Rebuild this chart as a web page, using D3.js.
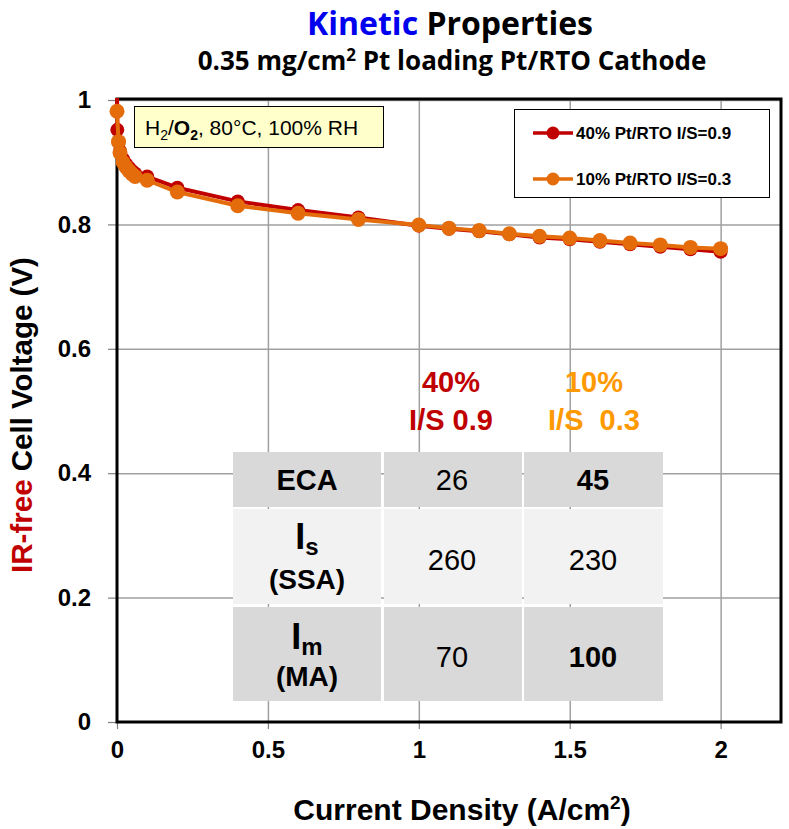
<!DOCTYPE html>
<html><head><meta charset="utf-8">
<script src="https://cdn.jsdelivr.net/npm/d3@7"></script>
<style>
body{margin:0;background:#fff}
svg{display:block}
text{font-family:"Liberation Sans",Arial,sans-serif}
</style>
</head><body>
<svg id="c" width="789" height="829"></svg>
<script>
// ---------- data ----------
const xTicks = [0, 0.5, 1, 1.5, 2];
const xTickLabels = ["0", "0.5", "1", "1.5", "2"];
const yTicks = [0, 0.2, 0.4, 0.6, 0.8, 1];
const yTickLabels = ["0", "0.2", "0.4", "0.6", "0.8", "1"];
const seriesNames = ["40% Pt/RTO I/S=0.9", "10% Pt/RTO I/S=0.3"];
const seriesColors = ["#c00000", "#e46c0a"];
const current40 = [0, 0.001, 0.005, 0.01, 0.02, 0.03, 0.04, 0.05, 0.06, 0.1, 0.2, 0.4, 0.6, 0.8, 1.0, 1.1, 1.2, 1.3, 1.4, 1.5, 1.6, 1.7, 1.8, 1.9, 2.0];
const voltage40 = [1.02, 0.952, 0.932, 0.918, 0.905, 0.897, 0.891, 0.886, 0.882, 0.877, 0.859, 0.837, 0.823, 0.811, 0.798, 0.793, 0.789, 0.784, 0.779, 0.776, 0.772, 0.768, 0.764, 0.760, 0.756];
const current10 = [0, 0.005, 0.01, 0.02, 0.03, 0.04, 0.05, 0.06, 0.1, 0.2, 0.4, 0.6, 0.8, 1.0, 1.1, 1.2, 1.3, 1.4, 1.5, 1.6, 1.7, 1.8, 1.9, 2.0];
const voltage10 = [0.982, 0.933, 0.915, 0.900, 0.892, 0.886, 0.881, 0.877, 0.871, 0.852, 0.830, 0.818, 0.808, 0.799, 0.794, 0.790, 0.785, 0.781, 0.778, 0.774, 0.770, 0.767, 0.763, 0.761];
const tableLabelMain = ["ECA", "I", "I"];
const tableLabelSub = ["", "s", "m"];
const tableLabelLine2 = ["", "(SSA)", "(MA)"];
const table40 = ["26", "260", "70"];
const table10 = ["45", "230", "100"];
const table10Bold = [true, false, true];
const headerTop = ["40%", "10%"];
const headerBottom = ["I/S 0.9", "I/S  0.3"];
const headerColors = ["#c00000", "#ff9900"];

// ---------- layout ----------
const svg = d3.select("#c");
const L = 117, R = 781, T = 100, B = 722;
const x = d3.scaleLinear().domain([0, 2.2]).range([L, R]);
const y = d3.scaleLinear().domain([0, 1]).range([B, T]);

// title
const t1 = svg.append("text").attr("x", 450).attr("y", 35).attr("text-anchor", "middle")
  .style("font-family", "'Open Sans',sans-serif").style("font-weight", "bold").style("font-size", "32px");
t1.append("tspan").attr("fill", "#0000ee").text("Kinetic");
t1.append("tspan").attr("fill", "#000").text(" Properties");
const t2 = svg.append("text").attr("x", 452).attr("y", 70).attr("text-anchor", "middle")
  .style("font-family", "'Open Sans',sans-serif").style("font-weight", "bold").style("font-size", "26px");
t2.append("tspan").text("0.35 mg/cm");
t2.append("tspan").attr("dy", -9).style("font-size", "17px").text("2");
t2.append("tspan").attr("dy", 9).text(" Pt loading Pt/RTO Cathode");

// gridlines
const grid = svg.append("g");
grid.append("g").attr("transform", `translate(0,${B})`)
  .call(d3.axisBottom(x).tickValues(xTicks.slice(1)).tickSize(-(B - T)).tickFormat(""))
  .call(g => g.select(".domain").remove())
  .call(g => g.selectAll("line").attr("stroke", "#a0a0a0").attr("stroke-width", 1.5));
grid.append("g").attr("transform", `translate(${L},0)`)
  .call(d3.axisLeft(y).tickValues(yTicks.slice(1)).tickSize(-(R - L)).tickFormat(""))
  .call(g => g.select(".domain").remove())
  .call(g => g.selectAll("line").attr("stroke", "#a0a0a0").attr("stroke-width", 1.5));

// outer tick marks + labels
const xa = svg.append("g").attr("transform", `translate(0,${B})`)
  .call(d3.axisBottom(x).tickValues(xTicks).tickSize(7).tickPadding(12)
    .tickFormat((d, i) => xTickLabels[i]));
xa.select(".domain").remove();
xa.selectAll("line").attr("stroke", "#808080").attr("stroke-width", 1.2);
xa.selectAll("text").attr("fill", "#000").style("font-size", "24px").style("font-weight", "bold")
  .style("font-family", "'Liberation Sans',Arial,sans-serif");

const ya = svg.append("g").attr("transform", `translate(${L},0)`)
  .call(d3.axisLeft(y).tickValues(yTicks).tickSize(9).tickPadding(17)
    .tickFormat((d, i) => yTickLabels[i]));
ya.select(".domain").remove();
ya.selectAll("line").attr("stroke", "#808080").attr("stroke-width", 1.2);
ya.selectAll("text").attr("fill", "#000").style("font-size", "24px").style("font-weight", "bold")
  .style("font-family", "'Liberation Sans',Arial,sans-serif");

// axis titles
const xt = svg.append("text").attr("x", 462).attr("y", 820).attr("text-anchor", "middle")
  .style("font-size", "30px").style("font-weight", "bold");
xt.append("tspan").text("Current Density (A/cm");
xt.append("tspan").attr("dy", -11).style("font-size", "19px").text("2");
xt.append("tspan").attr("dy", 11).text(")");

const yt = svg.append("text").attr("transform", "translate(32,415) rotate(-90)").attr("text-anchor", "middle")
  .style("font-size", "29.5px").style("font-weight", "bold");
yt.append("tspan").attr("fill", "#c00000").text("IR-free");
yt.append("tspan").attr("fill", "#000").text(" Cell Voltage (V)");

// table
const colX = [[233, 381], [384, 522], [524, 663]];
const rowY = [[452, 507], [509, 604], [607, 701]];
const rowFill = ["#d9d9d9", "#f2f2f2", "#d9d9d9"];
const tbl = svg.append("g");
tableLabelMain.forEach((lab, r) => {
  colX.forEach((c, ci) => {
    tbl.append("rect").attr("x", c[0]).attr("y", rowY[r][0])
      .attr("width", c[1] - c[0]).attr("height", rowY[r][1] - rowY[r][0]).attr("fill", rowFill[r]);
  });
});
// row 1
tbl.append("text").attr("x", 307).attr("y", 490).attr("text-anchor", "middle")
  .style("font-size", "29px").style("font-weight", "bold").text(tableLabelMain[0]);
// rows 2,3 labels
[1, 2].forEach(r => {
  const mainY = r === 1 ? 549 : 649;
  const l2Y = r === 1 ? 589 : 686;
  const t = tbl.append("text").attr("x", 307).attr("y", mainY).attr("text-anchor", "middle")
    .style("font-weight", "bold");
  t.append("tspan").style("font-size", "36px").text(tableLabelMain[r]);
  t.append("tspan").attr("dy", 6).style("font-size", "24px").text(tableLabelSub[r]);
  tbl.append("text").attr("x", 307).attr("y", l2Y).attr("text-anchor", "middle")
    .style("font-size", "28px").style("font-weight", "bold").text(tableLabelLine2[r]);
});
const valY = [490, 570, 667];
table40.forEach((v, r) => {
  tbl.append("text").attr("x", 452).attr("y", valY[r]).attr("text-anchor", "middle")
    .style("font-size", "29px").text(v);
});
table10.forEach((v, r) => {
  tbl.append("text").attr("x", 593).attr("y", valY[r]).attr("text-anchor", "middle")
    .style("font-size", "29px").style("font-weight", table10Bold[r] ? "bold" : "normal").text(v);
});
// headers
const hx = [451, 594];
headerTop.forEach((h, i) => {
  svg.append("text").attr("x", hx[i]).attr("y", 392).attr("text-anchor", "middle")
    .attr("fill", headerColors[i]).style("font-size", "29px").style("font-weight", "bold").text(h);
  svg.append("text").attr("x", hx[i]).attr("y", 430).attr("text-anchor", "middle")
    .attr("fill", headerColors[i]).style("font-size", "29px").style("font-weight", "bold")
    .style("white-space", "pre").text(headerBottom[i]);
});

// annotation box
svg.append("rect").attr("x", 134.5).attr("y", 106.5).attr("width", 249).attr("height", 41)
  .attr("fill", "#ffffcc").attr("stroke", "#000").attr("stroke-width", 1);
const an = svg.append("text").attr("x", 145).attr("y", 135).style("font-size", "21px");
an.append("tspan").text("H");
an.append("tspan").attr("dy", 5).style("font-size", "14px").text("2");
an.append("tspan").attr("dy", -5).text("/");
an.append("tspan").style("font-weight", "bold").text("O");
an.append("tspan").attr("dy", 5).style("font-size", "14px").style("font-weight", "bold").text("2");
an.append("tspan").attr("dy", -5).text(", 80°C, 100% RH");

// legend
svg.append("rect").attr("x", 514.5).attr("y", 109.5).attr("width", 255).attr("height", 88)
  .attr("fill", "#fff").attr("stroke", "#000").attr("stroke-width", 1);
const legY = [133, 179];
seriesNames.forEach((n, i) => {
  svg.append("line").attr("x1", 533).attr("x2", 573).attr("y1", legY[i]).attr("y2", legY[i])
    .attr("stroke", seriesColors[i]).attr("stroke-width", 3.5);
  svg.append("circle").attr("cx", 553).attr("cy", legY[i]).attr("r", 6.5).attr("fill", seriesColors[i]);
  svg.append("text").attr("x", 576).attr("y", legY[i] + 6).style("font-size", "17px")
    .style("font-weight", "bold").text(n);
});

// frame
svg.append("rect").attr("x", L).attr("y", T - 1).attr("width", R - L).attr("height", B - T + 1)
  .attr("fill", "none").attr("stroke", "#000").attr("stroke-width", 3);

// series
svg.append("clipPath").attr("id", "clip").append("rect")
  .attr("x", 0).attr("y", T - 2).attr("width", 789).attr("height", B - T + 10);
const series = [
  { xs: current40, ys: voltage40, color: seriesColors[0], r: 7 },
  { xs: current10, ys: voltage10, color: seriesColors[1], r: 7.5 }
];
const line = d3.line().x(d => x(d[0])).y(d => y(d[1]));
series.forEach(s => {
  const pts = s.xs.map((v, i) => [v, s.ys[i]]);
  const g = svg.append("g").attr("clip-path", "url(#clip)");
  g.append("path").datum(pts).attr("d", line).attr("fill", "none")
    .attr("stroke", s.color).attr("stroke-width", 4).attr("stroke-linejoin", "round");
  g.selectAll("circle").data(pts).join("circle")
    .attr("cx", d => x(d[0])).attr("cy", d => y(d[1])).attr("r", s.r).attr("fill", s.color);
});
</script>
</body></html>
